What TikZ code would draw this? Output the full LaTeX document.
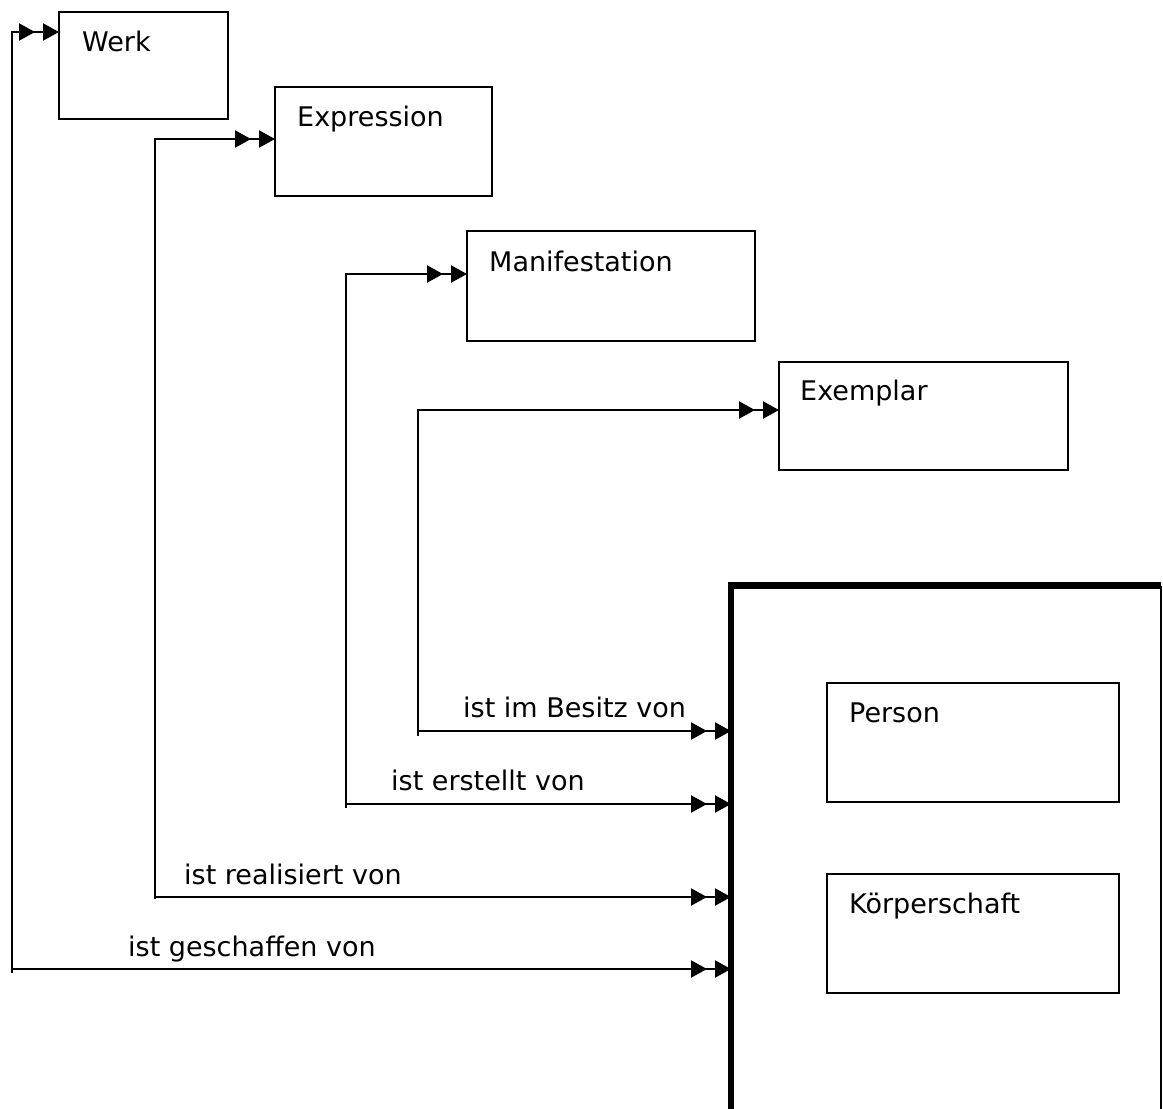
\documentclass[tikz,border=0pt]{standalone}
\usepackage{fontspec}
\setmainfont{DejaVu Sans}
\usetikzlibrary{arrows.meta,calc}
\begin{document}
\begin{tikzpicture}[x=1pt,y=-1pt,
  ent/.style={draw,line width=2.2pt,rectangle,inner sep=0pt,outer sep=0pt,anchor=north west},
  txt/.style={anchor=base west,inner sep=0pt,font=\fontsize{27}{31}\selectfont},
  thin/.style={line width=2.2pt},
  both/.style={line width=2.2pt,
    {Triangle[length=16pt,width=17pt]Triangle[length=16pt,width=17pt,sep=8pt]}-{Triangle[length=16pt,width=17pt,sep=8pt]Triangle[length=16pt,width=17pt]}}]
\useasboundingbox (0,0) rectangle (1163,1109);

% entity boxes
\node[ent,minimum width=169pt,minimum height=107pt] (werk) at (59,12) {};
\node[ent,minimum width=217pt,minimum height=109pt] (expr) at (275,87) {};
\node[ent,minimum width=288pt,minimum height=110pt] (mani) at (467,231) {};
\node[ent,minimum width=289pt,minimum height=108pt] (exem) at (779,362) {};
\node[ent,minimum width=292pt,minimum height=119pt] (pers) at (827,683) {};
\node[ent,minimum width=292pt,minimum height=119pt] (koer) at (827,874) {};

\node[txt] (twerk) at ($(werk.north west)+(23,39)$) {Werk};
\node[txt] (texpr) at ($(expr.north west)+(22,39)$) {Expression};
\node[txt] (tmani) at ($(mani.north west)+(22,40)$) {Manifestation};
\node[txt] (texem) at ($(exem.north west)+(21,38)$) {Exemplar};
\node[txt] (tpers) at ($(pers.north west)+(22,39)$) {Person};
\node[txt] (tkoer) at ($(koer.north west)+(22,39)$) {Körperschaft};

% group box
\node[inner sep=0pt,outer sep=0pt,anchor=north west,minimum width=430pt,minimum height=540pt] (grp) at (731,585.5) {};
\draw[line width=6.5pt,line join=miter] (grp.south west) -- (grp.north west) -- (grp.north east);
\draw[thin] (grp.north east) -- (grp.south east);

% connector corners
\coordinate (g1) at (12,969);   \coordinate (g2) at (12,32);
\coordinate (r1) at (155,897);  \coordinate (r2) at (155,139);
\coordinate (e1) at (346,804);  \coordinate (e2) at (346,274);
\coordinate (b1) at (418,731);  \coordinate (b2) at (418,410);

\draw[both] (grp.west |- g1) -- (g1) -- (g2) -- (werk.west |- g2);
\draw[both] (grp.west |- r1) -- (r1) -- (r2) -- (expr.west |- r2);
\draw[both] (grp.west |- e1) -- (e1) -- (e2) -- (mani.west |- e2);
\draw[both] (grp.west |- b1) -- (b1) -- (b2) -- (exem.west |- b2);
\draw[thin] (g1) -- ++(0,4);
\draw[thin] (r1) -- ++(0,2);
\draw[thin] (e1) -- ++(0,4);
\draw[thin] (b1) -- ++(0,5);

\node[txt] (lg) at (128,956) {ist geschaffen von};
\node[txt] (lr) at (184,884) {ist realisiert von};
\node[txt] (le) at (391,790) {ist erstellt von};
\node[txt] (lb) at (463,717) {ist im Besitz von};
\end{tikzpicture}
\end{document}
